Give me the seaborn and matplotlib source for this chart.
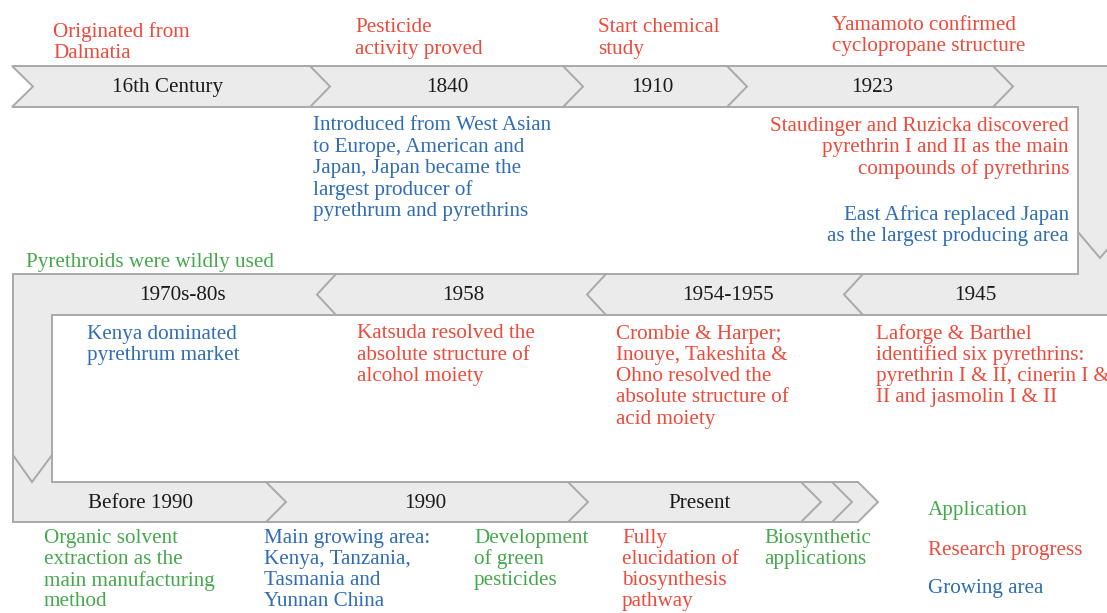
import matplotlib.pyplot as plt
import seaborn as sns
from matplotlib.patches import Polygon

# ---- data -------------------------------------------------------------
categories = ["Application", "Research progress", "Growing area"]
cat_colors = ["#45A84C", "#EE4A3A", "#2F6DB5"]

top_periods = ["16th Century", "1840", "1910", "1923"]
mid_periods = ["1970s-80s", "1958", "1954-1955", "1945"]
bot_periods = ["Before 1990", "1990", "Present"]

event_texts = [
    "Originated from\nDalmatia",
    "Pesticide\nactivity proved",
    "Start chemical\nstudy",
    "Yamamoto confirmed\ncyclopropane structure",
    "Introduced from West Asian\nto Europe, American and\nJapan, Japan became the\nlargest producer of\npyrethrum and pyrethrins",
    "Staudinger and Ruzicka discovered\npyrethrin I and II as the main\ncompounds of pyrethrins",
    "East Africa replaced Japan\nas the largest producing area",
    "Pyrethroids were wildly used",
    "Kenya dominated\npyrethrum market",
    "Katsuda resolved the\nabsolute structure of\nalcohol moiety",
    "Crombie & Harper;\nInouye, Takeshita &\nOhno resolved the\nabsolute structure of\nacid moiety",
    "Laforge & Barthel\nidentified six pyrethrins:\npyrethrin I & II, cinerin I &\nII and jasmolin I & II",
    "Organic solvent\nextraction as the\nmain manufacturing\nmethod",
    "Main growing area:\nKenya, Tanzania,\nTasmania and\nYunnan China",
    "Development\nof green\npesticides",
    "Fully\nelucidation of\nbiosynthesis\npathway",
    "Biosynthetic\napplications",
]
event_cats = [
    "Research progress", "Research progress", "Research progress", "Research progress",
    "Growing area", "Research progress", "Growing area", "Application",
    "Growing area", "Research progress", "Research progress", "Research progress",
    "Application", "Growing area", "Application", "Research progress", "Application",
]

# ---- layout (pixel coordinates) --------------------------------------
W, H = 1107, 613
event_pos = [(53, 32, "left"), (355, 28, "left"), (598, 28, "left"), (832, 25, "left"),
             (313, 126, "left"), (1069, 126, "right"), (1069, 215, "right"), (26, 262, "left"),
             (87, 334, "left"), (357, 334, "left"), (616, 334, "left"), (876, 334, "left"),
             (44, 538, "left"), (264, 538, "left"), (474, 538, "left"), (622, 538, "left"),
             (764, 538, "left")]
top_x = [168, 447, 652, 872]
mid_x = [182, 463, 728, 975]
bot_x = [141, 425, 700]
top_y, mid_y, bot_y = (66, 107), (274, 315), (482, 522)
top_chev = [310, 563, 727, 993]
mid_chev = [317, 587, 844]
bot_chev = [266, 568, 801, 832]
legend_pos = [(928, 510), (928, 550), (928, 589)]
LH = 21.3
FS = 15.2
FILL, EDGE = "#EBEBEB", "#A9A9A9"

sns.set_theme(style="white")
plt.rcParams["font.family"] = ["Liberation Serif", "DejaVu Serif"]
palette = dict(zip(categories, sns.color_palette(cat_colors)))

fig = plt.figure(figsize=(W / 100, H / 100), dpi=100)
ax = fig.add_axes([0, 0, 1, 1])
ax.set_xlim(0, W)
ax.set_ylim(H, 0)
ax.axis("off")

# snake-shaped band
outline = [(12, top_y[0]), (1125, top_y[0]), (1125, mid_y[1]), (52, mid_y[1]),
           (52, bot_y[0]), (858, bot_y[0]), (878, sum(bot_y) / 2), (858, bot_y[1]),
           (13, bot_y[1]), (13, mid_y[0]), (1078, mid_y[0]), (1078, top_y[1]),
           (12, top_y[1]), (33, sum(top_y) / 2)]
ax.add_patch(Polygon(outline, closed=True, facecolor=FILL, edgecolor=EDGE, lw=1.4, joinstyle="miter"))

def chevron(xs, ys, **kw):
    ax.plot(xs, ys, color=EDGE, lw=1.4, solid_joinstyle="miter", **kw)

for x in top_chev:
    chevron([x, x + 20, x], [top_y[0], sum(top_y) / 2, top_y[1]])
for x in mid_chev:
    chevron([x + 19, x, x + 19], [mid_y[0], sum(mid_y) / 2, mid_y[1]])
for x in bot_chev:
    chevron([x, x + 20, x], [bot_y[0], sum(bot_y) / 2, bot_y[1]])
chevron([1078, 1100, 1122], [232, 258, 232])
chevron([13, 32, 52], [455, 482, 455])

# period labels
for labels, xs, ys in [(top_periods, top_x, top_y), (mid_periods, mid_x, mid_y), (bot_periods, bot_x, bot_y)]:
    for lab, x in zip(labels, xs):
        ax.text(x, sum(ys) / 2 + 1, lab, ha="center", va="center", fontsize=FS, color="#1A1A1A")

# events
for txt, cat, (x, y, ha) in zip(event_texts, event_cats, event_pos):
    for i, line in enumerate(txt.split("\n")):
        ax.text(x, y + i * LH, line, ha=ha, va="center", fontsize=FS, color=palette[cat])

# legend
for cat, (x, y) in zip(categories, legend_pos):
    ax.text(x, y, cat, ha="left", va="center", fontsize=FS, color=palette[cat])

fig.savefig("out.png", dpi=100, facecolor="white")
